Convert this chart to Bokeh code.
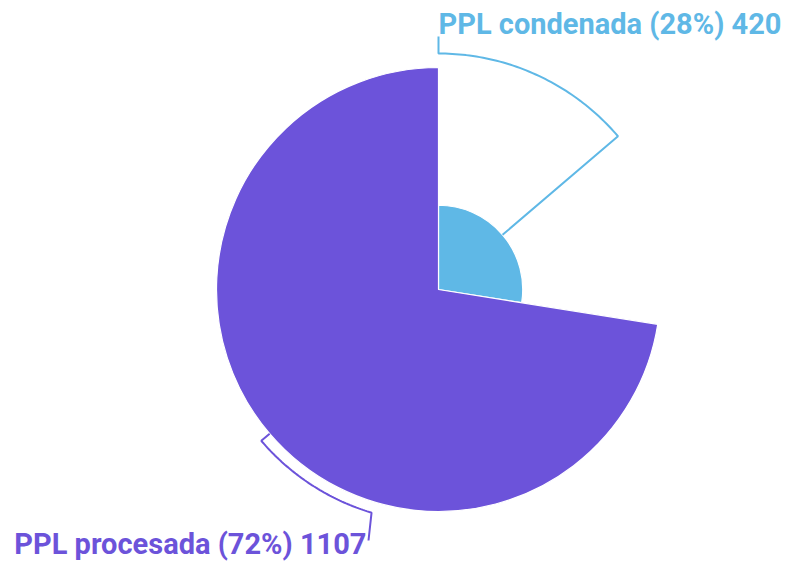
import numpy as np
from bokeh.plotting import figure
from bokeh.models import Range1d
from bokeh.core.properties import value
from bokeh.embed import file_html
from bokeh.resources import INLINE

categories = ["PPL condenada", "PPL procesada"]
values = [420, 1107]
colors = ["#5fb8e6", "#6c53da"]

W, H = 799, 562
CX, CY = 438, 289  # pixel position of pie centre
R_MAX = 222

p = figure(width=W, height=H, output_backend="svg", toolbar_location=None,
           x_range=Range1d(-CX, W - CX), y_range=Range1d(CY - H, CY),
           min_border=0, outline_line_color=None)
p.axis.visible = False
p.grid.visible = False
p.background_fill_color = "white"

vals = np.array(values, dtype=float)
total = vals.sum()
fracs = vals / total
radii = R_MAX * vals / vals.max()
starts = np.pi / 2 - 2 * np.pi * np.concatenate([[0], np.cumsum(fracs)[:-1]])
ends = starts - 2 * np.pi * fracs
mids = (starts + ends) / 2

p.wedge(x=0, y=0, radius=radii, start_angle=starts, end_angle=ends,
        direction="clock", fill_color=colors, line_color="#ffffff", line_width=1.2)

# leader lines
line_r = [236, 233]
arc_end = [np.pi / 2, np.deg2rad(253.3)]
tick_end = [(0, CY - 36), (368 - CX, CY - 540)]
for i in range(2):
    a0 = mids[i]
    if a0 < 0:
        a0 += 2 * np.pi
    a1 = arc_end[i]
    xs = [radii[i] * np.cos(a0)]
    ys = [radii[i] * np.sin(a0)]
    ang = np.linspace(a0, a1, 60)
    xs += list(line_r[i] * np.cos(ang))
    ys += list(line_r[i] * np.sin(ang))
    xs.append(tick_end[i][0])
    ys.append(tick_end[i][1])
    p.line(xs, ys, line_color=colors[i], line_width=2)

pct = [f"{round(f * 100):.0f}%" for f in fracs]
labels = [f"{c} ({q}) {v}" for c, q, v in zip(categories, pct, values)]

p.text(x=[0], y=[CY - 23], text=[labels[0]], text_color=colors[0],
       text_font=value("Roboto"), text_font_size=value("29px"), text_font_style="bold",
       text_align="left", text_baseline="alphabetic")
p.text(x=[366 - CX], y=[CY - 543], text=[labels[1]], text_color=colors[1],
       text_font=value("Roboto"), text_font_size=value("29px"), text_font_style="bold",
       text_align="right", text_baseline="alphabetic")

open("out.html", "w").write(file_html(p, INLINE))
